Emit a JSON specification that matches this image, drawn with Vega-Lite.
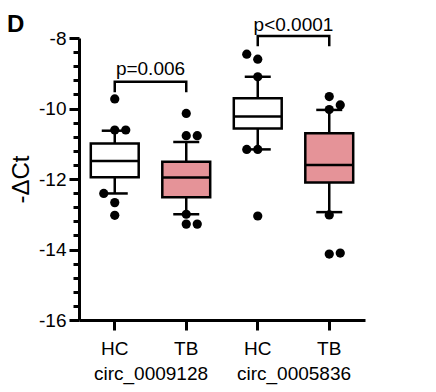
{
  "$schema": "https://vega.github.io/schema/vega-lite/v6.json",
  "autosize": {"type": "none"},
  "padding": {"left": 79, "top": 38, "right": 71, "bottom": 72},
  "width": 286,
  "height": 282,
  "title": {"text": "D", "anchor": "start", "frame": "group", "dx": -72, "dy": 23, "offset": 2, "fontSize": 24, "fontWeight": "bold", "font": "Liberation Sans", "color": "black"},
  "data": {"values": [
    {"kind": "box", "gene": "circ_0009128", "group": "HC", "cat": "HC|circ_0009128", "lo": -12.41, "q1": -11.95, "median": -11.49, "q3": -10.99, "hi": -10.63},
    {"kind": "box", "gene": "circ_0009128", "group": "TB", "cat": "TB|circ_0009128", "lo": -13.0, "q1": -12.52, "median": -11.96, "q3": -11.51, "hi": -10.95},
    {"kind": "box", "gene": "circ_0005836", "group": "HC", "cat": "HC|circ_0005836", "lo": -11.16, "q1": -10.57, "median": -10.23, "q3": -9.71, "hi": -9.1},
    {"kind": "box", "gene": "circ_0005836", "group": "TB", "cat": "TB|circ_0005836", "lo": -12.94, "q1": -12.1, "median": -11.6, "q3": -10.7, "hi": -10.04},
    {"kind": "pt", "gene": "circ_0009128", "group": "HC", "cat": "HC|circ_0009128", "value": -9.73, "jitter": 0},
    {"kind": "pt", "gene": "circ_0009128", "group": "HC", "cat": "HC|circ_0009128", "value": -10.61, "jitter": 0},
    {"kind": "pt", "gene": "circ_0009128", "group": "HC", "cat": "HC|circ_0009128", "value": -10.61, "jitter": 1},
    {"kind": "pt", "gene": "circ_0009128", "group": "HC", "cat": "HC|circ_0009128", "value": -12.41, "jitter": -1},
    {"kind": "pt", "gene": "circ_0009128", "group": "HC", "cat": "HC|circ_0009128", "value": -12.67, "jitter": 0},
    {"kind": "pt", "gene": "circ_0009128", "group": "HC", "cat": "HC|circ_0009128", "value": -13.03, "jitter": 0},
    {"kind": "pt", "gene": "circ_0009128", "group": "TB", "cat": "TB|circ_0009128", "value": -10.14, "jitter": 0},
    {"kind": "pt", "gene": "circ_0009128", "group": "TB", "cat": "TB|circ_0009128", "value": -10.77, "jitter": 0},
    {"kind": "pt", "gene": "circ_0009128", "group": "TB", "cat": "TB|circ_0009128", "value": -10.77, "jitter": 1},
    {"kind": "pt", "gene": "circ_0009128", "group": "TB", "cat": "TB|circ_0009128", "value": -13.0, "jitter": 0},
    {"kind": "pt", "gene": "circ_0009128", "group": "TB", "cat": "TB|circ_0009128", "value": -13.28, "jitter": 0},
    {"kind": "pt", "gene": "circ_0009128", "group": "TB", "cat": "TB|circ_0009128", "value": -13.28, "jitter": 1},
    {"kind": "pt", "gene": "circ_0005836", "group": "HC", "cat": "HC|circ_0005836", "value": -8.46, "jitter": -1},
    {"kind": "pt", "gene": "circ_0005836", "group": "HC", "cat": "HC|circ_0005836", "value": -8.6, "jitter": 0},
    {"kind": "pt", "gene": "circ_0005836", "group": "HC", "cat": "HC|circ_0005836", "value": -9.1, "jitter": 0},
    {"kind": "pt", "gene": "circ_0005836", "group": "HC", "cat": "HC|circ_0005836", "value": -11.16, "jitter": -1},
    {"kind": "pt", "gene": "circ_0005836", "group": "HC", "cat": "HC|circ_0005836", "value": -11.16, "jitter": 0},
    {"kind": "pt", "gene": "circ_0005836", "group": "HC", "cat": "HC|circ_0005836", "value": -13.05, "jitter": 0},
    {"kind": "pt", "gene": "circ_0005836", "group": "TB", "cat": "TB|circ_0005836", "value": -9.66, "jitter": 0},
    {"kind": "pt", "gene": "circ_0005836", "group": "TB", "cat": "TB|circ_0005836", "value": -9.9, "jitter": 1},
    {"kind": "pt", "gene": "circ_0005836", "group": "TB", "cat": "TB|circ_0005836", "value": -10.03, "jitter": 0},
    {"kind": "pt", "gene": "circ_0005836", "group": "TB", "cat": "TB|circ_0005836", "value": -13.02, "jitter": 0},
    {"kind": "pt", "gene": "circ_0005836", "group": "TB", "cat": "TB|circ_0005836", "value": -14.13, "jitter": 0},
    {"kind": "pt", "gene": "circ_0005836", "group": "TB", "cat": "TB|circ_0005836", "value": -14.1, "jitter": 1},
    {"kind": "br", "gene": "circ_0009128", "group": "HC", "cat": "HC|circ_0009128", "value": -9.5, "ord": 1},
    {"kind": "br", "gene": "circ_0009128", "group": "HC", "cat": "HC|circ_0009128", "value": -9.24, "ord": 2},
    {"kind": "br", "gene": "circ_0009128", "group": "TB", "cat": "TB|circ_0009128", "value": -9.24, "ord": 3},
    {"kind": "br", "gene": "circ_0009128", "group": "TB", "cat": "TB|circ_0009128", "value": -9.5, "ord": 4},
    {"kind": "br", "gene": "circ_0005836", "group": "HC", "cat": "HC|circ_0005836", "value": -8.2, "ord": 1},
    {"kind": "br", "gene": "circ_0005836", "group": "HC", "cat": "HC|circ_0005836", "value": -7.94, "ord": 2},
    {"kind": "br", "gene": "circ_0005836", "group": "TB", "cat": "TB|circ_0005836", "value": -7.94, "ord": 3},
    {"kind": "br", "gene": "circ_0005836", "group": "TB", "cat": "TB|circ_0005836", "value": -8.2, "ord": 4},
    {"kind": "p", "gene": "circ_0009128", "label": "p=0.006", "value": -9.04},
    {"kind": "p", "gene": "circ_0005836", "label": "p<0.0001", "value": -7.8}
  ]},
  "layer": [
    {
      "resolve": {"axis": {"y": "independent"}},
      "layer": [
        {
          "transform": [{"filter": "datum.kind == 'box'"}],
          "mark": {"type": "rule", "color": "black", "strokeWidth": 2.5},
          "encoding": {
            "x": {"field": "cat", "type": "nominal",
              "scale": {"domain": ["HC|circ_0009128", "TB|circ_0009128", "HC|circ_0005836", "TB|circ_0005836"], "paddingInner": 0.33, "paddingOuter": 0.165},
              "axis": {"title": null, "labelAngle": 0, "labelFontSize": 19, "labelPadding": 9, "labelExpr": "split(datum.value, '|')[0]"}},
            "y": {"field": "lo", "type": "quantitative",
              "scale": {"domain": [-16, -8], "nice": false, "zero": false},
              "axis": {
                "orient": "left",
                "title": "-ΔCt", "titleFontSize": 24, "titleFontWeight": "normal", "titlePadding": 5,
                "values": [-16, -14, -12, -10, -8],
                "labelExpr": "'' + datum.value",
                "labelFontSize": 19, "labelPadding": 3, "tickSize": 10,
                "grid": false
              }},
            "y2": {"field": "hi"}
          }
        },
        {
          "transform": [{"filter": "datum.kind == 'box'"}],
          "mark": {"type": "bar", "stroke": "black", "strokeWidth": 2.5},
          "encoding": {
            "x": {"field": "cat", "type": "nominal"},
            "y": {"field": "q1", "type": "quantitative",
              "axis": {"orient": "left", "title": null, "values": [-15.6, -15.2, -14.8, -14.4, -13.6, -13.2, -12.8, -12.4, -11.6, -11.2, -10.8, -10.4, -9.6, -9.2, -8.8, -8.4], "labels": false, "domain": false, "tickSize": 6, "grid": false}},
            "y2": {"field": "q3"},
            "fill": {"field": "group", "type": "nominal", "scale": {"domain": ["HC", "TB"], "range": ["#ffffff", "#E59398"]}, "legend": null}
          }
        },
        {
          "transform": [{"filter": "datum.kind == 'box'"}],
          "mark": {"type": "tick", "orient": "horizontal", "color": "black", "thickness": 2.5, "size": 48, "opacity": 1},
          "encoding": {
            "x": {"field": "cat", "type": "nominal"},
            "y": {"field": "median", "type": "quantitative", "axis": null}
          }
        },
        {
          "transform": [{"filter": "datum.kind == 'box'"}],
          "mark": {"type": "tick", "orient": "horizontal", "color": "black", "thickness": 2.5, "size": 26, "opacity": 1},
          "encoding": {
            "x": {"field": "cat", "type": "nominal"},
            "y": {"field": "lo", "type": "quantitative", "axis": null}
          }
        },
        {
          "transform": [{"filter": "datum.kind == 'box'"}],
          "mark": {"type": "tick", "orient": "horizontal", "color": "black", "thickness": 2.5, "size": 26, "opacity": 1},
          "encoding": {
            "x": {"field": "cat", "type": "nominal"},
            "y": {"field": "hi", "type": "quantitative", "axis": null}
          }
        },
        {
          "transform": [{"filter": "datum.kind == 'pt' && datum.jitter == 0"}],
          "mark": {"type": "circle", "color": "black", "size": 85, "opacity": 1},
          "encoding": {
            "x": {"field": "cat", "type": "nominal"},
            "y": {"field": "value", "type": "quantitative", "axis": null}
          }
        },
        {
          "transform": [{"filter": "datum.kind == 'br'"}],
          "mark": {"type": "line", "color": "black", "strokeWidth": 2.5, "strokeCap": "square"},
          "encoding": {
            "x": {"field": "cat", "type": "nominal"},
            "y": {"field": "value", "type": "quantitative", "axis": null},
            "detail": {"field": "gene"},
            "order": {"field": "ord", "type": "quantitative"}
          }
        }
      ]
    },
    {
      "transform": [{"filter": "datum.kind == 'pt' && datum.jitter == -1"}],
      "mark": {"type": "circle", "color": "black", "size": 85, "opacity": 1},
      "encoding": {
        "x": {"field": "cat", "type": "nominal",
          "scale": {"domain": ["HC|circ_0009128", "TB|circ_0009128", "HC|circ_0005836", "TB|circ_0005836"], "paddingInner": 0.33, "paddingOuter": 0.165, "range": [-11, 275]},
          "axis": null},
        "y": {"field": "value", "type": "quantitative", "axis": null}
      }
    },
    {
      "transform": [{"filter": "datum.kind == 'pt' && datum.jitter == 1"}],
      "mark": {"type": "circle", "color": "black", "size": 85, "opacity": 1},
      "encoding": {
        "x": {"field": "cat", "type": "nominal",
          "scale": {"domain": ["HC|circ_0009128", "TB|circ_0009128", "HC|circ_0005836", "TB|circ_0005836"], "paddingInner": 0.33, "paddingOuter": 0.165, "range": [11, 297]},
          "axis": null},
        "y": {"field": "value", "type": "quantitative", "axis": null}
      }
    },
    {
      "transform": [{"filter": "datum.kind == 'p'"}],
      "mark": {"type": "text", "fontSize": 19, "baseline": "alphabetic", "align": "center", "color": "black"},
      "encoding": {
        "x": {"field": "gene", "type": "nominal",
          "scale": {"domain": ["circ_0009128", "circ_0005836"], "paddingInner": 0, "paddingOuter": 0},
          "axis": {"orient": "bottom", "title": null, "labelAngle": 0, "labelFontSize": 19, "domain": false, "ticks": false, "tickSize": 0, "labelPadding": 44}},
        "y": {"field": "value", "type": "quantitative", "axis": null},
        "text": {"field": "label"}
      }
    }
  ],
  "resolve": {"scale": {"x": "independent"}, "axis": {"x": "independent"}},
  "config": {
    "font": "Liberation Sans",
    "view": {"stroke": null},
    "axis": {"domainColor": "black", "domainWidth": 3, "tickColor": "black", "tickWidth": 3, "tickSize": 10, "labelColor": "black", "titleColor": "black", "labelFont": "Liberation Sans", "titleFont": "Liberation Sans"}
  }
}
